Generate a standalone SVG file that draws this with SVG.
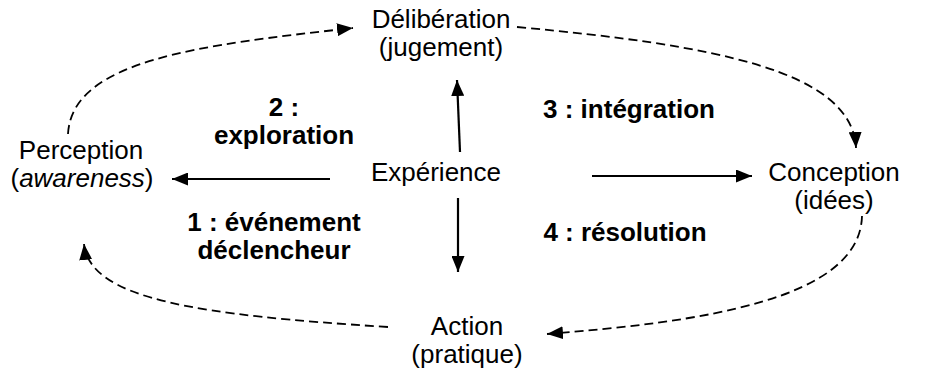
<svg xmlns="http://www.w3.org/2000/svg" width="942" height="376" viewBox="0 0 942 376">
<defs>
<style>
.t{font-family:"Liberation Sans",Arial,sans-serif;font-size:26px;fill:#000;text-anchor:middle}
.b{font-weight:bold}
.solid{fill:none;stroke:#000;stroke-width:2.2}
.dash{fill:none;stroke:#000;stroke-width:1.8;stroke-dasharray:9 5}
</style>
<marker id="ah" viewBox="0 0 16 13" refX="16" refY="6.5" markerWidth="16" markerHeight="13" orient="auto" markerUnits="userSpaceOnUse"><path d="M0,0 L16,6.5 L0,13 z" fill="#000"/></marker>
</defs>
<rect width="942" height="376" fill="#fff"/>
<g id="connectors">
<line class="solid" x1="330" y1="179" x2="172" y2="179" marker-end="url(#ah)"/>
<line class="solid" x1="460" y1="152" x2="457" y2="80" marker-end="url(#ah)"/>
<line class="solid" x1="592" y1="176" x2="752" y2="176" marker-end="url(#ah)"/>
<line class="solid" x1="458" y1="198" x2="458" y2="272" marker-end="url(#ah)"/>
<path class="dash" d="M68,134 C72,60 200,45 353,28" marker-end="url(#ah)"/>
<path class="dash" d="M517,27 C712,45 852,70 856,148" marker-end="url(#ah)"/>
<path class="dash" d="M862,216 C860,300 700,322 547,334" marker-end="url(#ah)"/>
<path class="dash" d="M388,327 C200,315 90,300 84,244" marker-end="url(#ah)"/>
</g>
<g id="deliberation"><text class="t" x="441" y="28">Délibération</text><text class="t" x="441" y="56">(jugement)</text></g>
<g id="perception"><text class="t" x="81" y="159">Perception</text><text class="t" x="82" y="187">(<tspan font-style="italic">awareness</tspan>)</text></g>
<g id="experience"><text class="t" x="436" y="181">Expérience</text></g>
<g id="conception"><text class="t" x="834" y="181">Conception</text><text class="t" x="834" y="209">(idées)</text></g>
<g id="action"><text class="t" x="467" y="335">Action</text><text class="t" x="467" y="363">(pratique)</text></g>
<g id="labels">
<text class="t b" x="284" y="116">2 :</text>
<text class="t b" x="284" y="144">exploration</text>
<text class="t b" x="629" y="118">3 : intégration</text>
<text class="t b" x="274" y="231">1 : événement</text>
<text class="t b" x="274" y="259">déclencheur</text>
<text class="t b" x="625" y="241">4 : résolution</text>
</g>
</svg>
